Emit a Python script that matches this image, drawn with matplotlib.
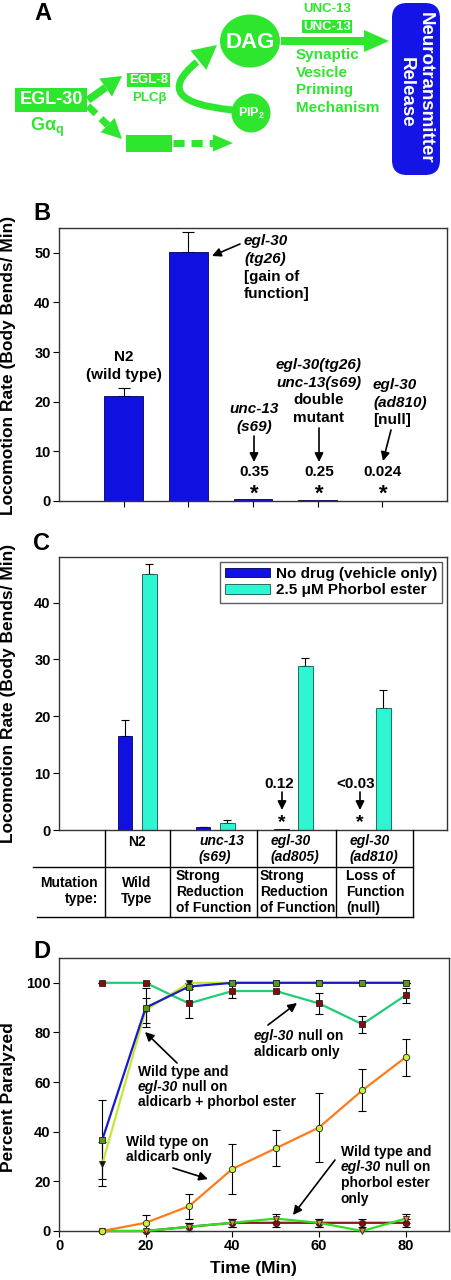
import numpy as np
import matplotlib
matplotlib.use('Agg')
import matplotlib.pyplot as plt
from matplotlib.patches import Rectangle, Ellipse, Circle, FancyBboxPatch, Polygon, PathPatch
from matplotlib.path import Path

plt.rcParams['font.family'] = ['Liberation Sans', 'DejaVu Sans']
plt.rcParams['font.weight'] = 'bold'
plt.rcParams['mathtext.default'] = 'regular'

W, H = 452, 1280

# panel B : locomotion rate
b_strains = ['N2', 'egl-30(tg26)', 'unc-13(s69)', 'egl-30(tg26);unc-13(s69)', 'egl-30(ad810)']
b_rate = [21.2, 50.1, 0.35, 0.25, 0.024]
b_err = [1.6, 4.0, 0, 0, 0]

# panel C : vehicle vs phorbol ester
c_strains = ['N2', 'unc-13(s69)', 'egl-30(ad805)', 'egl-30(ad810)']
c_vehicle = [16.6, 0.5, 0.12, 0.03]
c_vehicle_err = [2.8, 0.1, 0, 0]
c_pma = [45.0, 1.3, 28.8, 21.4]
c_pma_err = [1.8, 0.4, 1.4, 3.2]

# panel D : aldicarb time course
d_time = [10, 20, 30, 40, 50, 60, 70, 80]
wt_ald_pma = [36.8, 90, 98.5, 100, 100, 100, 100, 100]
wt_ald_pma_err = [16, 7.9, 0, 0, 0, 0, 0, 0]
null_ald_pma = [27, 89, 100, 100, 100, 100, 100, 100]
null_ald_pma_err = [9, 5, 0, 0, 0, 0, 0, 0]
null_ald = [100, 100, 91.7, 96.7, 96.7, 91.7, 83.3, 95]
null_ald_err = [0, 0, 6, 3, 0, 4.3, 3.4, 3]
wt_ald = [0, 3.3, 10, 25, 33.3, 41.7, 56.7, 70]
wt_ald_err = [0, 3.3, 5, 10, 7.3, 14, 8.4, 7.5]
wt_pma = [0, 0, 1.7, 3.3, 5, 3.3, 0, 5]
wt_pma_err = [0, 0, 1.7, 1.7, 1.7, 1.7, 0, 1.7]
null_pma = [0, 0, 1.7, 3.3, 3.3, 3.3, 3.3, 3.3]
null_pma_err = [0, 0, 1.7, 1.7, 1.7, 1.7, 1.7, 1.7]

GREEN = '#2ee62e'
BLUE = '#1010e0'
TURQ = '#30f5d2'

fig = plt.figure(figsize=(W / 100, H / 100), dpi=100)


def px_axes(l, t, r, b):
    return fig.add_axes([l / W, 1 - b / H, (r - l) / W, (b - t) / H])


def style(ax):
    for s in ax.spines.values():
        s.set_linewidth(1.0)
        s.set_color('#333333')
    ax.tick_params(direction='out', length=4, width=0.8, labelsize=10.5, pad=2)


def errbar(ax, x, y, e, cap):
    x, y, e = np.asarray(x), np.asarray(y), np.asarray(e)
    m = e > 0
    ax.errorbar(x[m], y[m], yerr=[np.zeros(m.sum()), e[m]], fmt='none', ecolor='black',
                elinewidth=0.8, capsize=cap, capthick=0.8, zorder=1)


# ---- B
axB = px_axes(59, 228, 447, 501)
xb = np.arange(1, len(b_rate) + 1)
errbar(axB, xb, b_rate, b_err, 4.3)
axB.bar(xb, b_rate, 0.6, color=BLUE, edgecolor='#00005a', lw=0.6, zorder=2)
axB.set_xlim(0, 6)
axB.set_ylim(0, 55)
axB.set_xticks(xb, [''] * len(xb))
axB.set_yticks(np.arange(0, 51, 10))
style(axB)

# ---- C
axC = px_axes(59, 557, 447, 830)
xc = np.arange(1, len(c_pma) + 1)
errbar(axC, xc - 0.155, c_vehicle, c_vehicle_err, 3)
errbar(axC, xc + 0.155, c_pma, c_pma_err, 3)
axC.bar(xc - 0.155, c_vehicle, 0.19, color=BLUE, edgecolor='#00005a', lw=0.6, zorder=2,
        label='No drug (vehicle only)')
axC.bar(xc + 0.155, c_pma, 0.19, color=TURQ, edgecolor='#0d5a4c', lw=0.6, zorder=2,
        label='2.5 \u03bcM Phorbol ester')
axC.set_xlim(0, 4.97)
axC.set_ylim(0, 48)
axC.set_xticks([])
axC.set_yticks(np.arange(0, 41, 10))
style(axC)
leg = axC.legend(loc='upper right', fontsize=11, frameon=True, fancybox=False,
                 borderaxespad=0.3, handlelength=2.9, handleheight=0.6,
                 handletextpad=0.4, borderpad=0.35, labelspacing=0.15)
leg.get_frame().set_edgecolor('#333333')
leg.get_frame().set_linewidth(1.0)

# ---- D
axD = px_axes(59, 958, 449, 1231)
lines = [
    (null_ald, null_ald_err, '#22cc77', 's', '#8b0a0a'),
    (null_ald_pma, null_ald_pma_err, '#c4e832', 'v', '#111111'),
    (wt_ald_pma, wt_ald_pma_err, '#1a1acc', 's', '#5a9a14'),
    (null_pma, null_pma_err, '#8b1a1a', 'o', '#8b0a0a'),
    (wt_pma, wt_pma_err, '#33dd22', 'v', '#ff7f1e'),
    (wt_ald, wt_ald_err, '#ff7a1a', 'o', '#c8f03c'),
]
for vals, errs, lc, mk, mc in lines:
    axD.errorbar(d_time, vals, yerr=errs, fmt='none', ecolor='black', elinewidth=0.8,
                 capsize=3, capthick=0.8, clip_on=False, zorder=2)
    axD.plot(d_time, vals, color=lc, lw=1.6, marker=mk, markersize=4.6, markerfacecolor=mc,
             markeredgecolor='#222222', markeredgewidth=0.6, clip_on=False, zorder=3)
axD.set_xlim(0, 90)
axD.set_ylim(0, 110)
axD.set_xticks(np.arange(0, 81, 20))
axD.set_yticks(np.arange(0, 101, 20))
style(axD)

# ---- overlay in pixel coordinates
ax0 = fig.add_axes([0, 0, 1, 1])
ax0.set_xlim(0, W)
ax0.set_ylim(H, 0)
ax0.axis('off')
r = fig.canvas.get_renderer()


def txt(x, y, s, size=11, ha='center', it=False, color='black', va='center', **kw):
    return ax0.text(x, y, s, fontsize=size, ha=ha, va=va, color=color,
                    fontweight='bold', fontstyle='italic' if it else 'normal', **kw)


def mixed(x, y, parts, size=10):
    for s, it in parts:
        t = txt(x, y, s, size, ha='left', it=it)
        x += t.get_window_extent(renderer=r).width


def arrow(tail, tip, lw=1.2):
    ax0.annotate('', xy=tip, xytext=tail,
                 arrowprops=dict(arrowstyle='-|>', color='black', lw=lw, mutation_scale=13,
                                 shrinkA=0, shrinkB=0))


def head(tip, direction, length, width, color=GREEN):
    d = np.asarray(direction, float)
    d /= np.hypot(*d)
    n = np.array([-d[1], d[0]])
    tip = np.asarray(tip, float)
    base = tip - d * length
    ax0.add_patch(Polygon([tip, base + n * width / 2, base - n * width / 2], closed=True,
                          color=color, lw=0))
    return base


def garrow(tail, tip, length, width, lw, dashed=False):
    tail = np.asarray(tail, float)
    base = head(tip, np.asarray(tip, float) - tail, length, width)
    ax0.plot([tail[0], base[0]], [tail[1], base[1]], color=GREEN, lw=lw,
             solid_capstyle='butt', dash_capstyle='butt',
             linestyle=(0, (1.6, 1.0)) if dashed else '-')


# panel letters
for lab, (x, y) in zip('ABCD', [(43, 14), (42, 213), (42, 544), (42, 952)]):
    txt(x, y, lab, 17)

# ---- A : schematic
ax0.add_patch(Rectangle((15, 88), 72, 24, color=GREEN, lw=0))
txt(51, 100, 'EGL-30', 13, color='white')
txt(47, 127, 'G\u03b1$_\\mathregular{q}$', 13, color=GREEN)
ax0.add_patch(Rectangle((127, 73), 43, 14, color=GREEN, lw=0))
txt(148.5, 80, 'EGL-8', 9.5, color='white')
txt(149, 98, 'PLC\u03b2', 9.5, color=GREEN)
ax0.add_patch(Rectangle((126, 135), 46, 17, color=GREEN, lw=0))
garrow((88, 100), (122, 76), 20, 22, 5.5)
garrow((88, 106), (122, 139), 20, 20, 5, dashed=True)
garrow((173, 143), (233, 143), 20, 17, 5, dashed=True)
ax0.add_patch(Ellipse((250, 41), 60, 53, color=GREEN, lw=0))
txt(250, 42, 'DAG', 16, color='white')
ax0.add_patch(Circle((251, 113), 19.5, color=GREEN, lw=0))
txt(251, 113, 'PIP$_\\mathregular{2}$', 9, color='white')
A_, C_, B_ = (233, 110), (148, 102), (197, 62)
ax0.add_patch(PathPatch(Path([A_, C_, B_], [Path.MOVETO, Path.CURVE3, Path.CURVE3]),
                        fill=False, color=GREEN, lw=5, capstyle='butt'))
head((217, 45), (B_[0] - C_[0], B_[1] - C_[1]), 24, 25)
garrow((281, 41), (389, 41), 25, 22, 5.8)
txt(327, 9.5, 'UNC-13', 9.5, color=GREEN)
ax0.add_patch(Rectangle((302, 20), 50, 13, color=GREEN, lw=0))
txt(327, 27, 'UNC-13', 9.5, color='white')
for i, s in enumerate(['Synaptic', 'Vesicle', 'Priming', 'Mechanism']):
    txt(296, 55 + 17.7 * i, s, 11, ha='left', color=GREEN)
ax0.add_patch(FancyBboxPatch((392, 3), 48, 172, boxstyle='round,pad=0,rounding_size=15',
                             color='#1414e6', lw=0))
txt(425, 88, 'Neurotransmitter', 13.5, color='white', rotation=-90)
txt(406, 92, 'Release', 13.5, color='white', rotation=-90)

# ---- B annotations
txt(9, 365, 'Locomotion Rate (Body Bends/ Min)', 12.5, rotation=90)
txt(124, 357, 'N2', 11)
txt(124, 375, '(wild type)', 11)
for i, (s, it) in enumerate([('egl-30', True), ('(tg26)', True), ('[gain of', False), ('function]', False)]):
    txt(244, 241 + 17.8 * i, s, 11, ha='left', it=it)
arrow((240, 244), (212, 256))
txt(254, 409, 'unc-13', 11, it=True)
txt(254, 427, '(s69)', 11, it=True)
for i, (s, it) in enumerate([('egl-30(tg26)', True), ('unc-13(s69)', True), ('double', False), ('mutant', False)]):
    txt(319, 365 + 17.7 * i, s, 11, it=it)
for i, (s, it) in enumerate([('egl-30', True), ('(ad810)', True), ('[null]', False)]):
    txt(373, 385 + 17.5 * i, s, 11, ha='left', it=it)
arrow((254, 436), (254, 462))
arrow((319, 428), (319, 462))
arrow((391, 430), (383, 461))
for x, s in zip([254, 319, 383], ['0.35', '0.25', '0.024']):
    txt(x, 472, s, 11)
    txt(x, 494, '*', 16)

# ---- C annotations
txt(9, 693, 'Locomotion Rate (Body Bends/ Min)', 12.5, rotation=90)
txt(279, 784, '0.12', 11)
txt(356, 784, '<0.03', 11)
arrow((282, 792), (282, 810))
arrow((360, 792), (360, 810))
txt(282, 814, '*', 14, va='top')
txt(360, 814, '*', 14, va='top')

# table under C
ax0.plot([33, 413], [867, 867], color='black', lw=1.0)
ax0.plot([37, 413], [917, 917], color='black', lw=1.0)
for x in [105, 170, 257, 336, 413]:
    ax0.plot([x, x], [830, 917], color='black', lw=1.0)
txt(137, 842, c_strains[0], 10)
for x, s in [(199, c_strains[1]), (271, c_strains[2]), (350, c_strains[3])]:
    g, a = s.split('(')
    txt(x, 841, g, 10, ha='left', it=True)
    txt(x, 857, '(' + a, 10, ha='left', it=True)
txt(98, 883, 'Mutation', 10, ha='right')
txt(98, 899, 'type:', 10, ha='right')
txt(137, 883, 'Wild', 10)
txt(137, 899, 'Type', 10)
for x, col in [(176, ['Strong', 'Reduction', 'of Function']),
               (260, ['Strong', 'Reduction', 'of Function']),
               (346, ['Loss of', 'Function', '(null)'])]:
    for i, s in enumerate(col):
        txt(x, 876 + 16 * i, s, 10, ha='left')

# ---- D annotations
txt(9, 1097, 'Percent Paralyzed', 12.5, rotation=90)
txt(253, 1268, 'Time (Min)', 12.5)
mixed(254, 1036, [('egl-30', True), (' null on', False)])
mixed(254, 1052, [('aldicarb only', False)])
arrow((268, 1025), (297, 1003))
mixed(138, 1072, [('Wild type and', False)])
mixed(138, 1087, [('egl-30', True), (' null on', False)])
mixed(138, 1102, [('aldicarb + phorbol ester', False)])
arrow((177, 1063), (145, 1032))
mixed(126, 1142, [('Wild type on', False)])
mixed(126, 1157, [('aldicarb only', False)])
arrow((173, 1168), (208, 1179))
mixed(341, 1152, [('Wild type and', False)])
mixed(341, 1167, [('egl-30', True), (' null on', False)])
mixed(341, 1183, [('phorbol ester', False)])
mixed(341, 1199, [('only', False)])
arrow((335, 1160), (293, 1215))

fig.savefig('out.png', dpi=100)
